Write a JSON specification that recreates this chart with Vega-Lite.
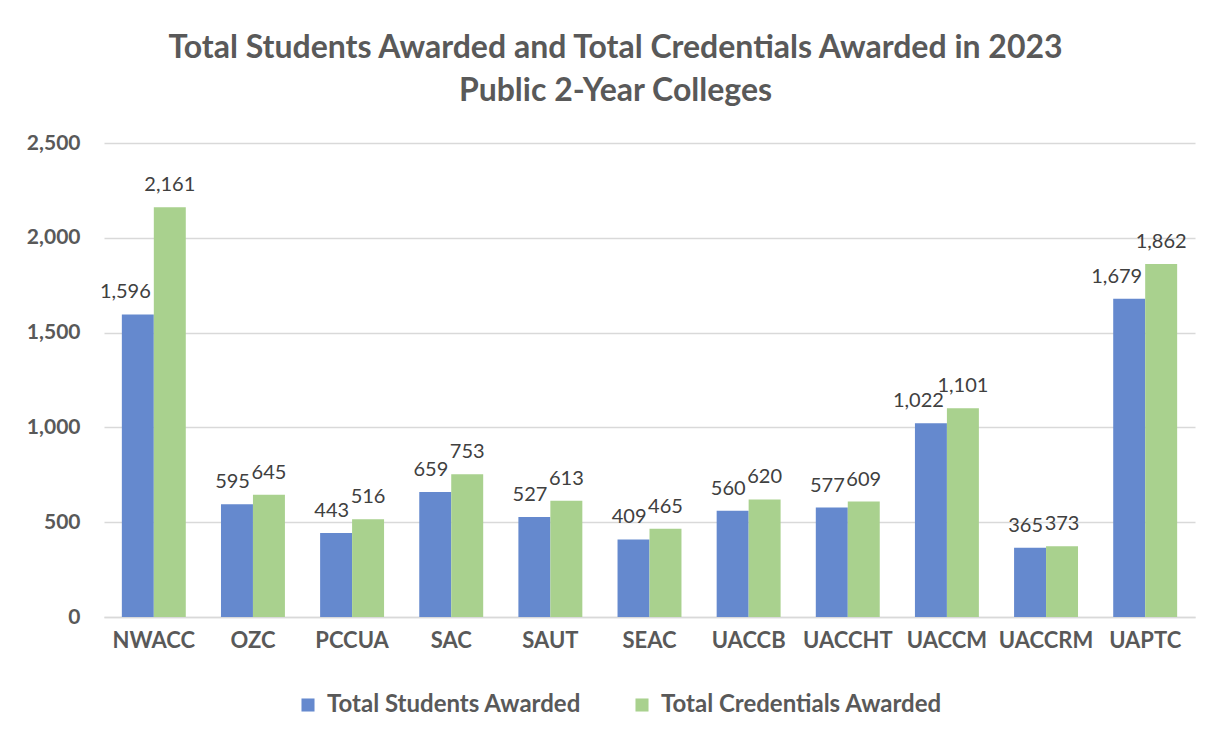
{
  "$schema": "https://vega.github.io/schema/vega-lite/v6.json",
  "autosize": "none",
  "width": 1091,
  "height": 474,
  "padding": {"left": 104, "top": 143, "right": 27, "bottom": 123},
  "background": "white",
  "config": {"view": {"stroke": null}},
  "title": {
    "text": ["Total Students Awarded and Total Credentials Awarded in 2023", "Public 2-Year Colleges"],
    "font": "Lato",
    "fontSize": 32,
    "fontWeight": "bold",
    "color": "#595959",
    "lineHeight": 43,
    "anchor": "middle",
    "dx": -34,
    "offset": 24
  },
  "data": {
    "values": [
      {"college": "NWACC", "series": "Total Students Awarded", "value": 1596},
      {"college": "NWACC", "series": "Total Credentials Awarded", "value": 2161},
      {"college": "OZC", "series": "Total Students Awarded", "value": 595},
      {"college": "OZC", "series": "Total Credentials Awarded", "value": 645},
      {"college": "PCCUA", "series": "Total Students Awarded", "value": 443},
      {"college": "PCCUA", "series": "Total Credentials Awarded", "value": 516},
      {"college": "SAC", "series": "Total Students Awarded", "value": 659},
      {"college": "SAC", "series": "Total Credentials Awarded", "value": 753},
      {"college": "SAUT", "series": "Total Students Awarded", "value": 527},
      {"college": "SAUT", "series": "Total Credentials Awarded", "value": 613},
      {"college": "SEAC", "series": "Total Students Awarded", "value": 409},
      {"college": "SEAC", "series": "Total Credentials Awarded", "value": 465},
      {"college": "UACCB", "series": "Total Students Awarded", "value": 560},
      {"college": "UACCB", "series": "Total Credentials Awarded", "value": 620},
      {"college": "UACCHT", "series": "Total Students Awarded", "value": 577},
      {"college": "UACCHT", "series": "Total Credentials Awarded", "value": 609},
      {"college": "UACCM", "series": "Total Students Awarded", "value": 1022},
      {"college": "UACCM", "series": "Total Credentials Awarded", "value": 1101},
      {"college": "UACCRM", "series": "Total Students Awarded", "value": 365},
      {"college": "UACCRM", "series": "Total Credentials Awarded", "value": 373},
      {"college": "UAPTC", "series": "Total Students Awarded", "value": 1679},
      {"college": "UAPTC", "series": "Total Credentials Awarded", "value": 1862}
    ]
  },
  "encoding": {
    "x": {
      "field": "college",
      "type": "nominal",
      "sort": null,
      "scale": {"paddingInner": 0.355, "paddingOuter": 0.18},
      "axis": {
        "title": null,
        "labelAngle": 0,
        "labelFont": "Lato",
        "labelFontSize": 22,
        "labelFontWeight": "bold",
        "labelColor": "#595959",
        "labelPadding": 13,
        "ticks": false,
        "domainColor": "#d9d9d9",
        "domainWidth": 1.5
      }
    },
    "xOffset": {
      "field": "series",
      "type": "nominal",
      "sort": ["Total Students Awarded", "Total Credentials Awarded"],
      "scale": {"paddingInner": 0, "paddingOuter": 0}
    },
    "y": {
      "field": "value",
      "type": "quantitative",
      "scale": {"domain": [0, 2500], "nice": false},
      "axis": {
        "title": null,
        "values": [0, 500, 1000, 1500, 2000, 2500],
        "format": ",.0f",
        "labelFont": "Lato",
        "labelFontSize": 21,
        "labelFontWeight": "bold",
        "labelColor": "#595959",
        "labelPadding": 24,
        "ticks": false,
        "domain": false,
        "gridColor": "#d9d9d9",
        "gridWidth": 1.5
      }
    }
  },
  "layer": [
    {
      "mark": {"type": "bar"},
      "encoding": {
        "color": {
          "field": "series",
          "type": "nominal",
          "sort": ["Total Students Awarded", "Total Credentials Awarded"],
          "scale": {"domain": ["Total Students Awarded", "Total Credentials Awarded"], "range": ["#6589CE", "#A9D18E"]},
          "legend": {
            "title": null,
            "orient": "none",
            "direction": "horizontal",
            "legendX": 192,
            "legendY": 550,
            "symbolType": "square",
            "symbolSize": 170,
            "symbolStrokeWidth": 0,
            "symbolOpacity": 1,
            "labelFont": "Lato",
            "labelFontSize": 24,
            "labelFontWeight": "bold",
            "labelColor": "#595959",
            "labelOffset": 7,
            "labelLimit": 0,
            "columnPadding": 48
          }
        }
      }
    },
    {
      "transform": [{"filter": "datum.series === 'Total Students Awarded'"}],
      "mark": {"type": "text", "align": "right", "baseline": "alphabetic", "dx": 13, "dy": -16, "font": "Lato", "fontSize": 20, "color": "#404040"},
      "encoding": {"text": {"field": "value", "type": "quantitative", "format": ",.0f"}}
    },
    {
      "transform": [{"filter": "datum.series === 'Total Credentials Awarded'"}],
      "mark": {"type": "text", "align": "center", "baseline": "alphabetic", "dy": -16, "font": "Lato", "fontSize": 20, "color": "#404040"},
      "encoding": {"text": {"field": "value", "type": "quantitative", "format": ",.0f"}}
    }
  ]
}
